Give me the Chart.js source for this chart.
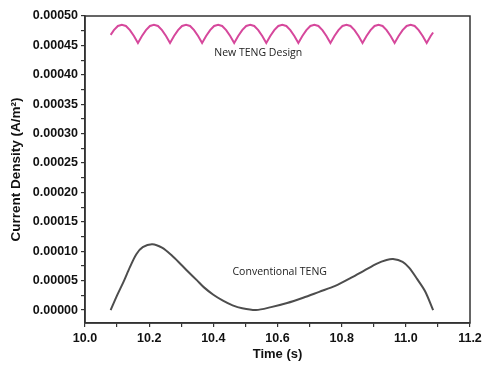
<!DOCTYPE html>
<html>
<head>
<meta charset="utf-8">
<script src="https://cdn.jsdelivr.net/npm/chart.js@4.4.1/dist/chart.umd.min.js"></script>
<style>
  html, body { margin: 0; padding: 0; background: #fff; }
  #wrap { width: 500px; height: 367px; }
</style>
</head>
<body>
<div id="wrap"><canvas id="grafico"></canvas></div>
<script>
// Conventional TENG
const convTime = [10.08, 10.10, 10.12, 10.14, 10.16, 10.18, 10.21, 10.24, 10.27, 10.30, 10.32, 10.35, 10.37, 10.40, 10.43, 10.46, 10.49, 10.533,
  10.58, 10.63, 10.68, 10.73, 10.78, 10.83, 10.87, 10.91, 10.94, 10.96, 10.99, 11.01, 11.035, 11.06, 11.085];
const convValues = [0, 0.000025, 0.000048, 0.000073, 0.000095, 0.000107, 0.000112, 0.000106, 0.000093, 0.000077, 0.000066, 0.000050, 0.000039, 0.000026, 0.000016, 0.000008, 0.000003, 0,
  0.000005, 0.000012, 0.000021, 0.000031, 0.000041, 0.000055, 0.000067, 0.000079, 0.000085, 0.0000867, 0.000082, 0.000072, 0.000053, 0.000032, 0];

// New TENG Design - arcos com cúspides a cada 0.1 s
const newTime = [10.08, 10.09, 10.1025, 10.115, 10.1275, 10.14, 10.1525,
  10.165, 10.1775, 10.19, 10.2025, 10.215, 10.2275, 10.24, 10.2525,
  10.265, 10.2775, 10.29, 10.3025, 10.315, 10.3275, 10.34, 10.3525,
  10.365, 10.3775, 10.39, 10.4025, 10.415, 10.4275, 10.44, 10.4525,
  10.465, 10.4775, 10.49, 10.5025, 10.515, 10.5275, 10.54, 10.5525,
  10.565, 10.5775, 10.59, 10.6025, 10.615, 10.6275, 10.64, 10.6525,
  10.665, 10.6775, 10.69, 10.7025, 10.715, 10.7275, 10.74, 10.7525,
  10.765, 10.7775, 10.79, 10.8025, 10.815, 10.8275, 10.84, 10.8525,
  10.865, 10.8775, 10.89, 10.9025, 10.915, 10.9275, 10.94, 10.9525,
  10.965, 10.9775, 10.99, 11.0025, 11.015, 11.0275, 11.04, 11.0525,
  11.065, 11.0775, 11.085];
const newValues = [0.000468, 0.000476, 0.000483, 0.000485, 0.000483, 0.000476, 0.000466,
  0.000454, 0.000466, 0.000476, 0.000483, 0.000485, 0.000483, 0.000476, 0.000466,
  0.000454, 0.000466, 0.000476, 0.000483, 0.000485, 0.000483, 0.000476, 0.000466,
  0.000454, 0.000466, 0.000476, 0.000483, 0.000485, 0.000483, 0.000476, 0.000466,
  0.000454, 0.000466, 0.000476, 0.000483, 0.000485, 0.000483, 0.000476, 0.000466,
  0.000454, 0.000466, 0.000476, 0.000483, 0.000485, 0.000483, 0.000476, 0.000466,
  0.000454, 0.000466, 0.000476, 0.000483, 0.000485, 0.000483, 0.000476, 0.000466,
  0.000454, 0.000466, 0.000476, 0.000483, 0.000485, 0.000483, 0.000476, 0.000466,
  0.000454, 0.000466, 0.000476, 0.000483, 0.000485, 0.000483, 0.000476, 0.000466,
  0.000454, 0.000466, 0.000476, 0.000483, 0.000485, 0.000483, 0.000476, 0.000466,
  0.000454, 0.000466, 0.000472];

// ticks
const xTicks = [10.0, 10.1, 10.2, 10.3, 10.4, 10.5, 10.6, 10.7, 10.8, 10.9, 11.0, 11.1, 11.2];
const xTickLabels = ['10.0', '', '10.2', '', '10.4', '', '10.6', '', '10.8', '', '11.0', '', '11.2'];
const yTicks = [0, 0.000025, 0.00005, 0.000075, 0.0001, 0.000125, 0.00015, 0.000175, 0.0002, 0.000225, 0.00025,
  0.000275, 0.0003, 0.000325, 0.00035, 0.000375, 0.0004, 0.000425, 0.00045, 0.000475, 0.0005];
const yTickLabels = ['0.00000', '', '0.00005', '', '0.00010', '', '0.00015', '', '0.00020', '', '0.00025',
  '', '0.00030', '', '0.00035', '', '0.00040', '', '0.00045', '', '0.00050'];

const seriesNames = ['New TENG Design', 'Conventional TENG'];
const labelPos = [[10.54, 0.000437], [10.607, 0.0000646]];

const toPoints = (xs, ys) => xs.map((x, i) => ({ x: x, y: ys[i] }));
const axisColor = '#333';
const tickFont = { family: "'Liberation Sans', Arial, sans-serif", size: 12.5, weight: 'bold' };

// moldura + textos das curvas
const molduraPlugin = {
  id: 'moldura',
  afterDraw(chart) {
    const { ctx, chartArea: a, scales } = chart;
    ctx.save();
    ctx.strokeStyle = axisColor;
    ctx.lineWidth = 1.5;
    ctx.strokeRect(a.left, a.top, a.right - a.left, a.bottom - a.top);
    ctx.fillStyle = '#222';
    ctx.font = "10.5px 'Open Sans', sans-serif";
    ctx.textAlign = 'center';
    ctx.textBaseline = 'middle';
    seriesNames.forEach((nome, i) => {
      ctx.fillText(nome, scales.x.getPixelForValue(labelPos[i][0]), scales.y.getPixelForValue(labelPos[i][1]));
    });
    ctx.restore();
  }
};

new Chart(document.getElementById('grafico'), {
  type: 'line',
  data: {
    datasets: [
      { label: seriesNames[0], data: toPoints(newTime, newValues), borderColor: '#d6489c', borderWidth: 2, pointRadius: 0, tension: 0 },
      { label: seriesNames[1], data: toPoints(convTime, convValues), borderColor: '#4d4d4d', borderWidth: 2, pointRadius: 0, tension: 0.3 }
    ]
  },
  options: {
    responsive: true,
    maintainAspectRatio: false,
    animation: false,
    layout: { padding: { top: 16, right: 30, left: 0, bottom: 0 } },
    plugins: { legend: { display: false }, tooltip: { enabled: false } },
    scales: {
      x: {
        type: 'linear', min: 10.0, max: 11.2,
        afterBuildTicks: s => { s.ticks = xTicks.map(v => ({ value: v })); },
        afterFit: s => { s.height = 44; },
        ticks: { autoSkip: false, maxRotation: 0, padding: 4, color: '#111', font: tickFont,
          callback: (v, i) => xTickLabels[i] },
        grid: { drawOnChartArea: false, tickLength: 4, color: axisColor, lineWidth: 1.2 },
        border: { color: axisColor, width: 1.5 },
        title: { display: true, text: 'Time (s)', color: '#111', padding: { top: 0, bottom: 5 },
          font: { family: "'Liberation Sans', Arial, sans-serif", size: 13, weight: 'bold' } }
      },
      y: {
        type: 'linear', min: -0.000022, max: 0.0005,
        afterBuildTicks: s => { s.ticks = yTicks.map(v => ({ value: v })); },
        afterFit: s => { s.width = 85; },
        ticks: { autoSkip: false, padding: 3, color: '#111', font: tickFont,
          callback: (v, i) => yTickLabels[i] },
        grid: { drawOnChartArea: false, tickLength: 4, color: axisColor, lineWidth: 1.2 },
        border: { color: axisColor, width: 1.5 },
        title: { display: true, text: 'Current Density (A/m²)', color: '#111', padding: { top: 8 },
          font: { family: "'Liberation Sans', Arial, sans-serif", size: 13.5, weight: 'bold' } }
      }
    }
  },
  plugins: [molduraPlugin]
});
</script>
</body>
</html>
